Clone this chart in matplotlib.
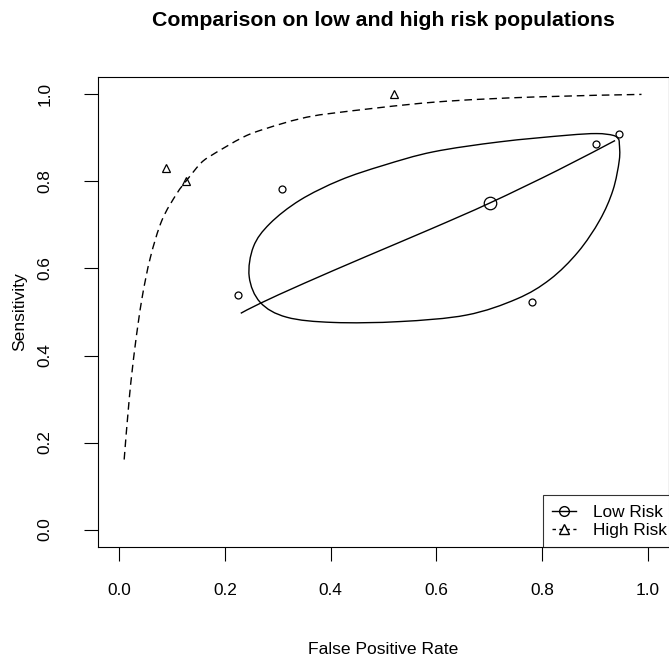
import numpy as np
import matplotlib
matplotlib.use("Agg")
import matplotlib.pyplot as plt
from matplotlib.lines import Line2D
from matplotlib.path import Path
from matplotlib.patches import PathPatch

plt.rcParams['font.family'] = ['Liberation Sans', 'DejaVu Sans']

# study points (fpr, sensitivity)
low_fpr = [0.224, 0.308, 0.780, 0.902, 0.946]
low_sens = [0.539, 0.782, 0.522, 0.885, 0.908]
high_fpr = [0.089, 0.127, 0.520]
high_sens = [0.832, 0.801, 1.000]

# summary point of low risk group
low_summary_fpr = 0.702
low_summary_sens = 0.751

# SROC curves
low_sroc_fpr = [0.230, 0.267, 0.350, 0.468, 0.590, 0.702, 0.830, 0.938]
low_sroc_sens = [0.497, 0.520, 0.566, 0.628, 0.691, 0.751, 0.826, 0.894]
high_sroc_fpr = [0.0095, 0.0195, 0.030, 0.043, 0.059, 0.081, 0.109, 0.128,
                 0.153, 0.172, 0.235, 0.279, 0.342, 0.405, 0.594, 0.783, 0.988]
high_sroc_sens = [0.161, 0.306, 0.420, 0.530, 0.625, 0.711, 0.772, 0.803,
                  0.840, 0.858, 0.902, 0.922, 0.944, 0.957, 0.982, 0.994, 1.000]

# confidence region of low risk group
ell_fpr = [0.903, 0.934, 0.944, 0.946, 0.946, 0.934, 0.909, 0.868, 0.815,
           0.752, 0.657, 0.531, 0.405, 0.317, 0.267, 0.246, 0.254, 0.285,
           0.342, 0.418, 0.500, 0.594, 0.720, 0.846]
ell_sens = [0.910, 0.906, 0.898, 0.887, 0.849, 0.780, 0.711, 0.638, 0.575,
            0.530, 0.493, 0.478, 0.476, 0.488, 0.522, 0.581, 0.650, 0.703,
            0.757, 0.803, 0.837, 0.868, 0.891, 0.906]


def smooth_path(xs, ys, closed=False):
    # catmull-rom through the read points, as cubic bezier segments
    p = np.column_stack([xs, ys])
    n = len(p)
    if closed:
        get = lambda i: p[i % n]
        nseg = n
    else:
        get = lambda i: p[min(max(i, 0), n - 1)]
        nseg = n - 1
    verts = [p[0]]
    codes = [Path.MOVETO]
    for i in range(nseg):
        p0, p1, p2, p3 = get(i - 1), get(i), get(i + 1), get(i + 2)
        verts += [p1 + (p2 - p0) / 6, p2 - (p3 - p1) / 6, p2]
        codes += [Path.CURVE4] * 3
    return Path(verts, codes)


fig = plt.figure(figsize=(6.69, 6.61), dpi=100)
ax = fig.add_axes([98/669, 1 - 547/661, 1 - 98/669, (547 - 77)/661])

lw = 1.0
ax.add_patch(PathPatch(smooth_path(low_sroc_fpr, low_sroc_sens),
                       fc='none', ec='black', lw=lw))
ax.add_patch(PathPatch(smooth_path(high_sroc_fpr, high_sroc_sens),
                       fc='none', ec='black', lw=lw,
                       linestyle=(0, (5.5, 3.5))))
ax.add_patch(PathPatch(smooth_path(ell_fpr, ell_sens, closed=True),
                       fc='none', ec='black', lw=lw))

ax.plot(low_fpr, low_sens, 'o', mfc='none', mec='black', ms=5, mew=0.9)
ax.plot(high_fpr, high_sens, '^', mfc='none', mec='black', ms=5.5, mew=0.9)
ax.plot([low_summary_fpr], [low_summary_sens], 'o', mfc='none', mec='black',
        ms=9, mew=0.9)

ax.set_xlim(-0.04, 1.04)
ax.set_ylim(-0.04, 1.04)
ticks = [0.0, 0.2, 0.4, 0.6, 0.8, 1.0]
ax.set_xticks(ticks)
ax.set_yticks(ticks)
ax.set_xticklabels(['0.0', '0.2', '0.4', '0.6', '0.8', '1.0'])
ax.set_yticklabels(['0.0', '0.2', '0.4', '0.6', '0.8', '1.0'],
                   rotation=90, va='center')
ax.tick_params(axis='x', length=10, width=0.8, pad=16, labelsize=12.4)
ax.tick_params(axis='y', length=10, width=0.8, pad=23, labelsize=12.4)
for s in ax.spines.values():
    s.set_linewidth(0.8)

fig.text(383/669, 1 - 26/661, 'Comparison on low and high risk populations',
         ha='center', va='baseline', fontsize=15.3, fontweight='bold')
fig.text(383/669, 1 - 650/661, 'False Positive Rate', ha='center',
         va='center', fontsize=12.6)
fig.text(20/669, 1 - 312/661, 'Sensitivity', ha='center', va='center',
         rotation=90, fontsize=12.6)

handles = [
    Line2D([], [], color='black', lw=lw, marker='o', mfc='none', ms=7),
    Line2D([], [], color='black', lw=lw, linestyle=(0, (2.5, 2.5)),
           marker='^', mfc='none', ms=7),
]
leg = ax.legend(handles, ['Low Risk', 'High Risk'], loc='lower left',
                bbox_to_anchor=(0.779, 0.0), fontsize=12.4, frameon=True,
                fancybox=False, borderaxespad=0, borderpad=0.55,
                handlelength=1.4, handletextpad=0.95, labelspacing=0.15)
leg.get_frame().set_edgecolor('black')
leg.get_frame().set_linewidth(0.8)

fig.savefig('out.png', dpi=100)
